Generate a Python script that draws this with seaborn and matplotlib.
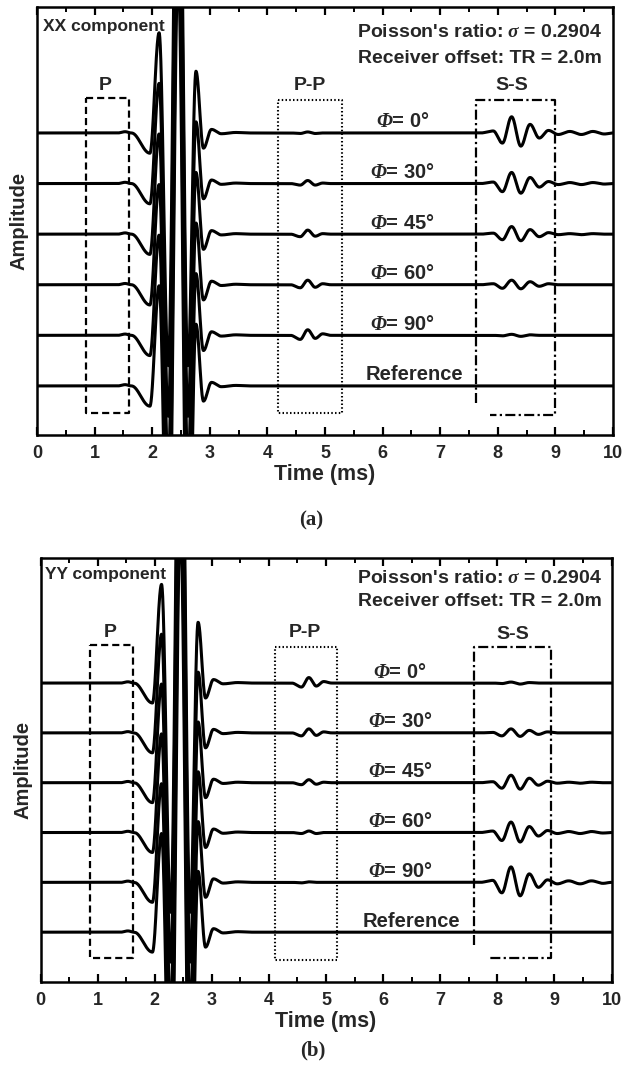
import numpy as np
import pandas as pd
import matplotlib
matplotlib.use("Agg")
import matplotlib.pyplot as plt
from matplotlib.ticker import MultipleLocator
import seaborn as sns

sns.set_theme(style="white")
plt.rcParams["font.family"] = ["Liberation Sans", "DejaVu Sans"]
plt.rcParams["font.weight"] = "bold"
plt.rcParams["mathtext.fontset"] = "custom"
plt.rcParams["mathtext.it"] = "Liberation Serif:italic"
plt.rcParams["mathtext.rm"] = "Liberation Sans:bold"
plt.rcParams["mathtext.bf"] = "Liberation Sans:bold"
plt.rcParams["mathtext.bfit"] = "Liberation Serif:italic:bold"

# ---------------- data ----------------
trace_names = ["0", "30", "45", "60", "90", "Reference"]
trace_labels = [r"$\mathbfit{\Phi}$= 0°", r"$\mathbfit{\Phi}$= 30°", r"$\mathbfit{\Phi}$= 45°",
                r"$\mathbfit{\Phi}$= 60°", r"$\mathbfit{\Phi}$= 90°", "Reference"]
trace_offsets = [5, 4, 3, 2, 1, 0]

# direct P wavelet (extrema), same for every trace
main_t = [1.40, 1.53, 1.64, 1.96, 2.12, 2.28, 2.45, 2.62, 2.76, 2.89, 3.03, 3.20, 3.45, 3.70]
main_a = [0.00, 0.025, 0.00, -0.40, 1.98, -4.6, 8.2, -4.6, 1.22, -0.30, 0.07, -0.015, 0.01, 0.0]

# P-P arrival extrema
pp_t = [4.40, 4.57, 4.70, 4.83, 4.96, 5.10]
xx_pp = [[0, -0.01, 0.02, -0.01, 0.00, 0],
         [0, -0.03, 0.06, -0.03, 0.01, 0],
         [0, -0.05, 0.08, -0.04, 0.01, 0],
         [0, -0.06, 0.09, -0.05, 0.02, 0],
         [0, -0.08, 0.11, -0.06, 0.03, 0],
         [0, 0, 0, 0, 0, 0]]
yy_pp = [[0, -0.08, 0.11, -0.06, 0.03, 0],
         [0, -0.06, 0.08, -0.05, 0.02, 0],
         [0, -0.04, 0.06, -0.03, 0.01, 0],
         [0, -0.02, 0.03, -0.02, 0.00, 0],
         [0, -0.01, 0.01, 0.00, 0.00, 0],
         [0, 0, 0, 0, 0, 0]]

# S-S arrival extrema
ss_t = [7.70, 7.92, 8.08, 8.24, 8.40, 8.56, 8.72, 8.88, 9.05, 9.25, 9.45, 9.65, 9.85, 10.0]
xx_ss = [[0, 0.04, -0.20, 0.32, -0.26, 0.17, -0.10, 0.05, -0.03, 0.03, -0.03, 0.03, -0.02, 0],
         [0, 0.03, -0.16, 0.22, -0.19, 0.12, -0.07, 0.04, -0.02, 0.02, -0.02, 0.02, -0.01, 0],
         [0, 0.02, -0.11, 0.15, -0.13, 0.09, -0.05, 0.03, -0.01, 0.01, -0.01, 0.01, 0.00, 0],
         [0, 0.02, -0.07, 0.09, -0.08, 0.06, -0.03, 0.02, 0.00, 0.00, 0.00, 0.00, 0.00, 0],
         [0, 0.00, -0.01, 0.02, -0.02, 0.01, 0.00, 0.00, 0.00, 0.00, 0.00, 0.00, 0.00, 0],
         [0, 0, 0, 0, 0, 0, 0, 0, 0, 0, 0, 0, 0, 0]]
yy_ss = [[0, 0.00, -0.01, 0.02, -0.02, 0.01, 0.00, 0.00, 0.00, 0.00, 0.00, 0.00, 0.00, 0],
         [0, 0.01, -0.06, 0.08, -0.07, 0.05, -0.03, 0.02, 0.00, 0.00, 0.00, 0.00, 0.00, 0],
         [0, 0.02, -0.11, 0.15, -0.13, 0.09, -0.05, 0.03, -0.01, 0.01, -0.01, 0.01, 0.00, 0],
         [0, 0.03, -0.16, 0.21, -0.19, 0.12, -0.07, 0.04, -0.02, 0.02, -0.02, 0.02, -0.01, 0],
         [0, 0.04, -0.21, 0.31, -0.27, 0.17, -0.10, 0.05, -0.03, 0.03, -0.03, 0.03, -0.02, 0],
         [0, 0, 0, 0, 0, 0, 0, 0, 0, 0, 0, 0, 0, 0]]

x_ticks = [0, 1, 2, 3, 4, 5, 6, 7, 8, 9, 10]

# ---------------- helpers ----------------
grid = np.linspace(0, 10, 5001)


def render(kt, ka):
    """Smooth half-cosine path through the listed extrema."""
    y = np.zeros_like(grid)
    for i in range(len(kt) - 1):
        t0, t1, a0, a1 = kt[i], kt[i + 1], ka[i], ka[i + 1]
        m = (grid >= t0) & (grid < t1)
        u = (grid[m] - t0) / (t1 - t0)
        y[m] = a0 + (a1 - a0) * (1 - np.cos(np.pi * u)) / 2
    return y


def build_df(pp, ss):
    rows = []
    base = render(main_t, main_a)
    for k, name in enumerate(trace_names):
        sig = base + render(pp_t, pp[k]) + render(ss_t, ss[k])
        rows.append(pd.DataFrame({"time": grid, "amp": sig + trace_offsets[k], "trace": name}))
    return pd.concat(rows, ignore_index=True)


def draw_panel(ax, df, cfg):
    sns.lineplot(data=df, x="time", y="amp", units="trace", estimator=None, sort=False,
                 color="black", lw=2.2, legend=False, ax=ax)
    ax.set_xlim(0, 10)
    ax.set_ylim(*cfg["ylim"])
    ax.set_yticks([])
    ax.set_xticks(x_ticks)
    ax.xaxis.set_minor_locator(MultipleLocator(0.5))
    ax.tick_params(axis="x", which="major", direction="in", top=True, bottom=True,
                   length=6, width=1.6, color="black", labelsize=13, pad=7)
    ax.tick_params(axis="x", which="minor", direction="in", top=True, bottom=True,
                   length=3.5, width=1.4, color="black")
    for lab in ax.get_xticklabels():
        lab.set_fontweight("bold")
    for s in ax.spines.values():
        s.set_linewidth(1.8)
        s.set_color("black")
    ax.set_xlabel("Time (ms)", fontsize=15.5, fontweight="bold", labelpad=2)
    ax.set_ylabel("Amplitude", fontsize=14.5, fontweight="bold", labelpad=6)

    # boxes
    px0, px1, py0, py1 = cfg["box_p"]
    ax.plot([px0, px1, px1, px0, px0], [py1, py1, py0, py0, py1], color="black",
            lw=1.6, ls=(0, (3.2, 1.8)))
    qx0, qx1, qy0, qy1 = cfg["box_pp"]
    ax.plot([qx0, qx1, qx1, qx0, qx0], [qy1, qy1, qy0, qy0, qy1], color="black",
            lw=1.5, ls=(0, (0.7, 1.1)))
    sx0, sx1, sy0, sy1, s_left_end, s_bot_start = cfg["box_ss"]
    ax.plot([sx0, sx0, sx1, sx1, s_bot_start], [s_left_end, sy1, sy1, sy0, sy0], color="black",
            lw=1.6, ls=(0, (4.5, 1.5, 1.0, 1.5)))

    # labels
    ax.text(cfg["p_lab"][0], cfg["p_lab"][1], "P", ha="center", va="center", fontsize=14, fontweight="bold")
    ax.text(cfg["pp_lab"][0], cfg["pp_lab"][1], "P-P", ha="center", va="center", fontsize=14, fontweight="bold")
    ax.text(cfg["ss_lab"][0], cfg["ss_lab"][1], "S-S", ha="center", va="center", fontsize=14, fontweight="bold")
    for k, lab in enumerate(trace_labels):
        x = cfg["ref_x"] if lab == "Reference" else cfg["phi_x"]
        ax.text(x, trace_offsets[k] + 0.22, lab, ha="center", va="center", fontsize=14.5, fontweight="bold")
    ax.text(cfg["comp"][0], cfg["comp"][1], cfg["comp_text"], ha="left", va="center", fontsize=12.5, fontweight="bold")
    ax.text(cfg["info_x"], cfg["info_y"][0], "Poisson's ratio: $\\sigma$ = 0.2904", ha="right", va="center",
            fontsize=14, fontweight="bold")
    ax.text(cfg["info_x"], cfg["info_y"][1], "Receiver offset: TR = 2.0m", ha="right", va="center",
            fontsize=14, fontweight="bold")


cfg_a = dict(ylim=(-0.97, 7.49), box_p=(0.85, 1.6, -0.53, 5.69), box_pp=(4.18, 5.3, -0.53, 5.65),
             box_ss=(7.63, 9.0, -0.57, 5.65, -0.34, 7.87), p_lab=(1.18, 5.93), pp_lab=(4.74, 5.93),
             ss_lab=(8.25, 5.93), phi_x=6.35, ref_x=6.55, comp=(0.1, 7.11), comp_text="XX component",
             info_x=9.81, info_y=(6.98, 6.48))
cfg_b = dict(ylim=(-1.0, 7.51), box_p=(0.87, 1.62, -0.52, 5.76), box_pp=(4.11, 5.19, -0.56, 5.72),
             box_ss=(7.59, 8.94, -0.52, 5.72, -0.26, 7.82), p_lab=(1.22, 6.02), pp_lab=(4.63, 6.02),
             ss_lab=(8.27, 5.98), phi_x=6.3, ref_x=6.5, comp=(0.08, 7.17), comp_text="YY component",
             info_x=9.83, info_y=(7.09, 6.63))

fig = plt.figure(figsize=(6.23, 10.85), dpi=100)
ax_a = fig.add_axes([37 / 623, 1 - 435 / 1085, 576 / 623, 428 / 1085])
ax_b = fig.add_axes([40.5 / 623, 1 - 982 / 1085, 571 / 623, 424 / 1085])

draw_panel(ax_a, build_df(xx_pp, xx_ss), cfg_a)
draw_panel(ax_b, build_df(yy_pp, yy_ss), cfg_b)

fig.text(311 / 623, 1 - 520 / 1085, "(a)", ha="center", va="center", fontsize=15,
         fontweight="bold", family="Liberation Serif")
fig.text(313 / 623, 1 - 1050 / 1085, "(b)", ha="center", va="center", fontsize=15,
         fontweight="bold", family="Liberation Serif")

fig.savefig("out.png", dpi=100, facecolor="white")
